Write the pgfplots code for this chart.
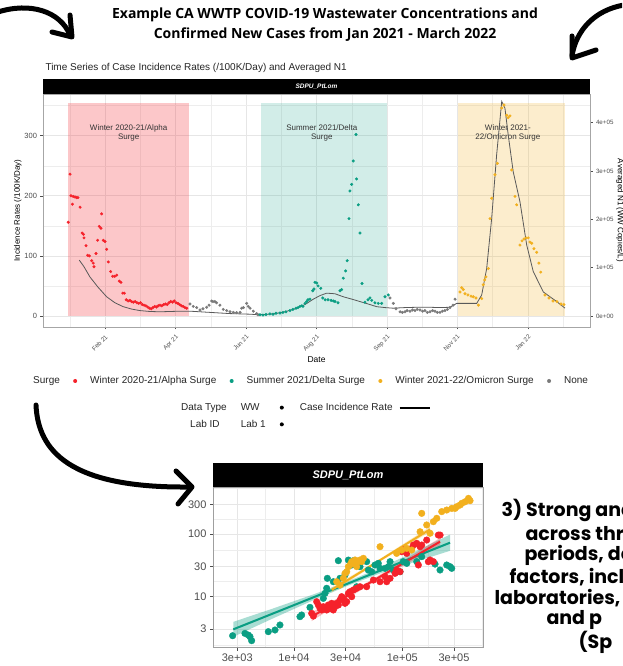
\documentclass[border=0pt]{standalone}
\usepackage{pgfplots}
\pgfplotsset{compat=1.18}
\usepackage{fontspec}
\setmainfont{Liberation Sans}
\newfontfamily\titlefont{Open Sans}
\newfontfamily\popfont{Poppins}
\definecolor{cred}{HTML}{F5222B}
\definecolor{cteal}{HTML}{0A9E83}
\definecolor{corange}{HTML}{F2B01E}
\definecolor{cgray}{HTML}{7A7A7A}
\definecolor{tickgray}{HTML}{4D4D4D}
\definecolor{gridgray}{HTML}{E6E6E6}
\pgfplotsset{
  dotkey/.style={legend image code/.code={\path[draw=none,fill=none] (0pt,-0.5pt) rectangle (20pt,0.5pt); \fill[#1, draw=none] (10pt,0pt) circle (2pt);}},
}
\begin{document}
\begin{tikzpicture}[x=1pt,y=1pt]
\useasboundingbox (0,0) rectangle (622,666);
\clip (0,0) rectangle (622,666);
\fill[white] (0,0) rectangle (622,666);
% ---------- titles ----------
\node[font=\titlefont\bfseries\fontsize{14}{20}\selectfont, align=center] at (325,641) {Example CA WWTP COVID-19 Wastewater Concentrations and\\Confirmed New Cases from Jan 2021 - March 2022};
\node[anchor=west, font=\fontsize{10}{11}\selectfont, text=black!85] at (42,598) {Time Series of Case Incidence Rates (/100K/Day) and Averaged N1};
\fill[black] (43,572) rectangle (590,587);
\node[text=white, font=\bfseries\itshape\fontsize{6.5}{7}\selectfont] at (316.5,579.5) {SDPU\_PtLom};
% ---------- top chart ----------
\begin{axis}[at={(43pt,339pt)}, anchor=south west, scale only axis, width=547pt, height=233pt,
  xmin=-21.3, xmax=440.3, ymin=-18.3, ymax=369.4,
  axis line style={gray!70, line width=0.6pt},
  xtick={31,90.5,150,209.5,269,328,388},
  xticklabels={Feb 21,Apr 21,Jun 21,Aug 21,Sep 21,Nov 21,Jan 22},
  minor xtick={1.25,60.75,120.25,179.75,239.25,298.5,358,417.5},
  ytick={0,100,200,300}, yticklabels={0,100,200,300},
  minor ytick={50,150,250,350},
  grid=both, major grid style={gridgray, line width=0.6pt}, minor grid style={gridgray!70, line width=0.35pt},
  xtick pos=lower, ytick pos=left, tick align=outside, major tick length=2.5pt, minor tick length=0pt,
  tick style={tickgray, line width=0.5pt},
  xticklabel style={rotate=45, anchor=north east, font=\fontsize{6.2}{7}\selectfont, text=tickgray},
  yticklabel style={font=\fontsize{7.5}{8}\selectfont, text=tickgray},
  xlabel={Date}, xlabel style={font=\fontsize{8.5}{10}\selectfont, yshift=4pt},
  ylabel={Incidence Rates (/100K/Day)}, ylabel style={font=\fontsize{8}{10}\selectfont, yshift=-4pt},
  clip=true]
\addplot[fill=cred, fill opacity=0.25, draw=none] coordinates {(0,0)(0,355)(101.9,355)(101.9,0)} -- cycle;
\addplot[fill=cteal, fill opacity=0.18, draw=none] coordinates {(162.4,0)(162.4,355)(269.2,355)(269.2,0)} -- cycle;
\addplot[fill=corange, fill opacity=0.22, draw=none] coordinates {(328.6,0)(328.6,355)(419.2,355)(419.2,0)} -- cycle;
\node[font=\fontsize{8}{9.5}\selectfont, align=center, text=black!80] at (axis cs:51,305) {Winter 2020-21/Alpha\\Surge};
\node[font=\fontsize{8}{9.5}\selectfont, align=center, text=black!80] at (axis cs:214,305) {Summer 2021/Delta\\Surge};
\node[font=\fontsize{8}{9.5}\selectfont, align=center, text=black!80] at (axis cs:371,305) {Winter 2021-\\22/Omicron Surge};
% red
\addplot[only marks, mark=*, mark size=1.3pt, color=cred] coordinates {
(0,156)(1.5,236)(2.3,200)(3.5,186)(4.2,199)(5.7,198)(7.1,197)(8.2,197)(10,181)(11.8,138)(12.8,136)(13.3,130)(15,117)(16.4,101)(17.8,100)(19.8,92)(21.1,88)(21.7,82)(23.4,104)(24.8,126)(26.2,149)(27.6,146)(28.2,170)(29.6,126)(31,124)(32.4,111)(33.8,90)(35.8,74)(37.5,66)(39.2,66)(40.9,68)(43.1,58)(44.5,56)(46,38)(47.3,38)
(49,27)(50.5,25)(52,26)(53.5,24)(55,23)(56.5,24)(58,22)(59.5,21)(61,22)(62.5,19)(64,18)(65.5,17)(67,15)(68.5,13)(70,12)(71.5,14)(73,16)(74.5,15)(76,17)(77.5,18)(79,17)(80.5,19)(82,20)(83.5,19)(85,22)(86.5,24)(88,23)(89.5,25)(91,22)(92.5,21)(94,19)(95.5,17)(97,16)(98.5,14)(100,13)};
% gray
\addplot[only marks, mark=*, mark size=1.3pt, color=cgray] coordinates {
(102.7,20)(105.5,16)(108.4,14)(111.2,10)(113.7,12)(116.8,14.5)(118.8,18)(121,25)(122.1,24)(123.8,24)(125.2,22)(128,18)(130.8,11)(133.7,9)(136.5,7)(139.3,6)(142.1,5.5)(145,6)(146.4,13)(147.8,14)(150.6,21)(151.9,16)(153.4,13)(156.2,8)(159,4)(160.1,2)
(271.5,30)(274.3,21)(276.6,12)(280,7)(282,6)(284.2,7)(286,9)(288.4,8)(290.5,10)(292.6,9)(294.5,11)(296.8,10)(299,8)(301,9)(303,6)(305.3,7)(307.5,9)(309.5,8)(311.5,6)(313.7,6)(315.8,8)(317.9,9)(320,11)(322.1,14)(324.7,18)(326.4,28)};
% teal
\addplot[only marks, mark=*, mark size=1.3pt, color=cteal] coordinates {
(161.8,2)(164.3,1.5)(166.9,2.5)(170.2,3.5)(172.8,3)(175.3,4.5)(178.7,5)(181.2,6)(183.7,7)(187.1,9)(189.6,11)(192.2,13)(193.9,14)(195.6,16)(197.2,17)(198.1,16)(199.8,21)(201.2,24)(202.3,27)(204,28)(206.3,42)(207.4,45)(208.2,56)(209.7,55)(210.8,50)(213.1,46)(214.8,30)(216.8,27)(219.2,27)(221.8,26)(223.7,25)(225.1,24)(227.6,22)(229.3,42)(230.7,44)(232.1,63)(234.1,75)(235.4,92)(236.9,162)(237.7,208)(239.2,219)(240.5,258)(242.8,302)(243.3,228)(244.8,185)(246.2,138)(247.9,54)(250.4,23)(253,27)(254.6,30)(256.1,26)(258.8,22)(261.6,21)(264.5,21)(267.3,32)(270.1,35)};
% orange
\addplot[only marks, mark=*, mark size=1.3pt, color=corange] coordinates {
(330.6,40)(332,47)(333.4,44)(334.8,37)(337.3,35)(339.9,33)(341.8,32)(344.1,30)(346.1,18)(348.9,29)(350.2,52)(351.4,60)(352.5,65)(354.5,79)(355.9,162)(357.3,196)(360.1,235)(362.1,254)(365.8,346)(367.7,351)(370,334)(371.3,330)(372.8,333)(374.2,243)(377,199)(378.4,185)(381.2,118)(382.9,125)(384.6,128)(386.3,130)(388.2,130)(389.6,123)(391.1,121)(393,112)(395.3,106)(397.2,88)(398.7,73)(402.3,35)(405.7,30)(409.1,25)(412.4,24)(415.8,20)(418.3,19)};
% case incidence line
\addplot[no marks, color=black!65, line width=0.8pt] coordinates {
(9.3,93)(13.3,82)(18.3,65)(25.1,48)(32.4,32)(39.4,22)(46.4,15.5)(53.5,11.5)(60.5,9)(69,7.5)(77.4,7)(85.9,7.5)(94.3,8)(102.7,8)(111.2,7)(119.6,6)(128,5)(136.5,4)(145,3.5)(153.4,3)(160.1,2.2)(166,2.5)(174.5,4)(182.9,7)(191.4,12)(199.8,19)(206.8,28)(212.5,34)(218.1,38)(225.1,37)(232.1,32)(239.4,28)(246.2,24)(253,20)(260.3,15.5)(267.3,14)(274,13)(284.2,14)(294,14.5)(305.3,14.5)(313.7,14)(322.1,14.5)(327.8,21)(336.2,21)(344.7,21)(348.9,35)(353.1,79)(357.3,162)(361.5,268)(365.8,357)(368.5,346)(371.3,301)(375.5,240)(381.2,190)(386.9,118)(392.4,74)(400.9,40)(412.2,24)(419.2,13)};
\end{axis}
% right axis
\begin{axis}[at={(43pt,339pt)}, anchor=south west, scale only axis, width=547pt, height=233pt,
  xmin=-21.3, xmax=440.3, ymin=-22761, ymax=459453,
  axis x line=none, axis y line*=right, axis line style={gray!70, line width=0.6pt},
  ytick={0,100000,200000,300000,400000}, yticklabels={0e+00,1e+05,2e+05,3e+05,4e+05},
  scaled y ticks=false, tick align=outside, major tick length=2.5pt, tick style={tickgray, line width=0.5pt},
  yticklabel style={font=\fontsize{6.2}{7}\selectfont, text=tickgray},
  ylabel={Averaged N1 (WW Copies/L)}, ylabel shift=-4pt, ylabel style={font=\fontsize{8}{10}\selectfont, rotate=180}]
\addplot[draw=none] coordinates {(0,0)};
\end{axis}
% ---------- legends ----------
\begin{axis}[hide axis, scale only axis, width=1pt, height=1pt, at={(25pt,285pt)}, anchor=south west, xmin=0, xmax=1, ymin=0, ymax=1,
  legend style={at={(0,0)}, anchor=west, draw=none, fill=none, legend columns=-1, font=\fontsize{10}{12}\selectfont, text=black!85,
  /tikz/every odd column/.append style={column sep=3pt},
  /tikz/every even column/.append style={column sep=3.3pt}}, legend cell align=left]
\addlegendimage{empty legend}\addlegendentry{Surge}
\addlegendimage{dotkey=cred}\addlegendentry{Winter 2020-21/Alpha Surge}
\addlegendimage{dotkey=cteal}\addlegendentry{Summer 2021/Delta Surge}
\addlegendimage{dotkey=corange}\addlegendentry{Winter 2021-22/Omicron Surge}
\addlegendimage{dotkey=cgray}\addlegendentry{None}
\end{axis}
\begin{axis}[hide axis, scale only axis, width=1pt, height=1pt, at={(176pt,250pt)}, anchor=south west, xmin=0, xmax=1, ymin=0, ymax=1,
  legend style={at={(0,0)}, anchor=west, draw=none, fill=none, legend columns=3, font=\fontsize{10}{12}\selectfont, text=black!85,
  /tikz/every odd column/.append style={column sep=4pt},
  /tikz/every even column/.append style={column sep=6pt}, row sep=4pt}, legend plot pos=right, legend cell align=left]
\addlegendimage{empty legend}\addlegendentry{Data Type}
\addlegendimage{dotkey=black}\addlegendentry{WW}
\addlegendimage{black, line width=2pt, legend image code/.code={\draw[black, line width=2pt] (0pt,0pt) -- (30pt,0pt);}}\addlegendentry{Case Incidence Rate}
\addlegendimage{empty legend}\addlegendentry{\hspace*{9pt}Lab ID}
\addlegendimage{dotkey=black}\addlegendentry{Lab 1}
\end{axis}
% ---------- bottom chart ----------
\fill[black] (213,179) rectangle (483,203);
\node[text=white, font=\bfseries\itshape\fontsize{11}{12}\selectfont] at (348,191) {SDPU\_PtLom};
\begin{axis}[at={(213pt,18.3pt)}, anchor=south west, scale only axis, width=270pt, height=160.7pt,
  xmode=log, ymode=log, xmin=1791, xmax=555900, ymin=1.503, ymax=568.9,
  axis line style={gray!75, line width=0.8pt},
  xtick={3000,10000,30000,100000,300000}, xticklabels={3e+03,1e+04,3e+04,1e+05,3e+05},
  ytick={3,10,30,100,300}, yticklabels={3,10,30,100,300},
  minor xtick={5477,17320,54770,173200,547700}, minor ytick={1.643,5.477,17.32,54.77,173.2,547.7},
  grid=both, major grid style={gridgray, line width=0.8pt}, minor grid style={gridgray!70, line width=0.45pt},
  xtick pos=lower, ytick pos=left, tick align=outside, major tick length=3pt, minor tick length=0pt,
  tick style={tickgray, line width=0.6pt},
  ticklabel style={font=\fontsize{11}{12}\selectfont, text=tickgray}, clip=true]
% ribbons
\addplot[fill=cteal, fill opacity=0.35, draw=none] coordinates {(2754,3.905)(6310,6.335)(15850,11.08)(31620,17.50)(63100,28.93)(125900,50.68)(276100,98.08)(276100,53.89)(125900,35.05)(63100,23.51)(31620,14.89)(15850,9.007)(6310,4.383)(2754,2.247)} -- cycle;
\addplot[fill=cred, fill opacity=0.3, draw=none] coordinates {(14590,5.557)(50120,17.74)(223400,86.7)(223400,65.8)(50120,15.45)(14590,4.025)} -- cycle;
\addplot[fill=corange, fill opacity=0.3, draw=none] coordinates {(22300,13.9)(63100,40.6)(180400,130.6)(180400,108.7)(63100,37.0)(22300,11.56)} -- cycle;
% points
\addplot[only marks, mark=*, mark size=3.3pt, color=cteal] coordinates {
(2718,2.34)(3532,2.55)(3793,2.40)(3930,2.26)(4070,1.95)(5800,2.72)(6690,2.89)(7430,3.48)(11370,4.73)(11780,5.03)(14060,6.67)(18670,9.30)(19360,11.2)(20050,13.5)(20330,19.5)(23100,17.2)(25700,37.4)(26600,19.5)(29600,22.0)(31800,38.3)(34100,31.9)(35300,37.4)(37900,14.3)(40700,30.0)(46900,36.1)(48600,26.5)(52200,24.9)(56000,31.9)(60100,33.9)(62300,28.2)(69300,28.2)(74400,30.0)(77100,36.1)(82800,26.5)(95300,24.9)(102000,36.1)(109900,33.9)(135900,36.1)(151000,43.4)(200500,33.0)(223000,26.5)(257000,31.9)(276000,30.0)(286000,28.2)};
\addplot[only marks, mark=*, mark size=3.3pt, color=cred] coordinates {
(14580,5.35)(15110,4.84)(16220,8.22)(16800,7.27)(17400,6.43)(18030,6.05)(18670,6.84)(19360,6.43)(20050,6.05)(20750,7.27)(21500,6.43)(22290,7.74)(23100,6.05)(23930,6.84)(24800,7.74)(25700,7.27)(26620,8.75)(27580,9.90)(28580,9.31)(29600,7.74)(30700,8.22)(31800,11.2)(32950,11.9)(34140,9.90)(35370,12.7)(37930,13.5)(40700,14.3)(46900,14.3)(54100,18.3)(62300,17.2)(69300,20.7)(71800,17.2)(77100,19.5)(85700,23.4)(88700,26.5)(95300,24.9)(98800,52.1)(102300,55.4)(109900,49.0)(122200,59.0)(126500,66.7)(135900,71.0)(140800,31.9)(145900,62.7)(151100,66.7)(168000,80.2)(174000,36.1)(180400,38.4)(193600,36.1)(215200,96.4)(223200,96.4)};
\addplot[only marks, mark=*, mark size=3.3pt, color=corange] coordinates {
(24800,17.2)(26620,15.2)(28580,19.5)(29600,23.4)(30700,24.9)(31800,30.0)(32950,31.9)(34140,36.1)(35370,33.9)(36640,38.4)(37930,30.0)(39330,36.1)(40740,38.4)(42200,36.1)(43750,40.8)(62300,62.7)(88700,49.0)(98800,55.4)(109900,59.0)(122200,55.4)(145900,109)(151100,215)(168000,140)(180400,103)(193600,158)(208000,179)(231200,229)(257000,243)(286000,258)(307000,258)(318000,275)(341000,292)(354000,311)(380000,330)(408000,374)(422000,343)};
% fitted lines
\addplot[no marks, color=cteal, line width=2pt] coordinates {(2756,2.96)(276000,72.7)};
\addplot[no marks, color=cred, line width=2pt] coordinates {(14580,4.73)(223000,75.5)};
\addplot[no marks, color=corange, line width=2pt] coordinates {(22300,12.7)(180400,119)};
\end{axis}
% ---------- right text ----------
\begin{scope}[font=\popfont\bfseries\fontsize{19}{20}\selectfont]
\node[anchor=west] at (498,155.3) {3) Strong and};
\node[anchor=west] at (522,132.7) {across thr};
\node[anchor=west] at (521,111) {periods, de};
\node[anchor=west] at (506,89.3) {factors, inclu};
\node[anchor=west] at (491,67.7) {laboratories,};
\node[anchor=west] at (543,46) {and p};
\node[anchor=west] at (575,23.3) {(Sp};
\end{scope}
% ---------- arrows ----------
\begin{scope}[line width=5pt, line cap=round, line join=round]
\draw (-2,654) .. controls (30,664) and (60,655) .. (70,631);
\draw (52,634) -- (72,629) -- (70,651);
\draw (624,661) .. controls (595,656) and (576,636) .. (572,610);
\draw (572,630) -- (572,608) -- (596,616);
\draw (36,261) .. controls (38,215) and (70,178) .. (188,179);
\draw (176,195) -- (192,179) -- (178,162);
\end{scope}
\end{tikzpicture}
\end{document}
